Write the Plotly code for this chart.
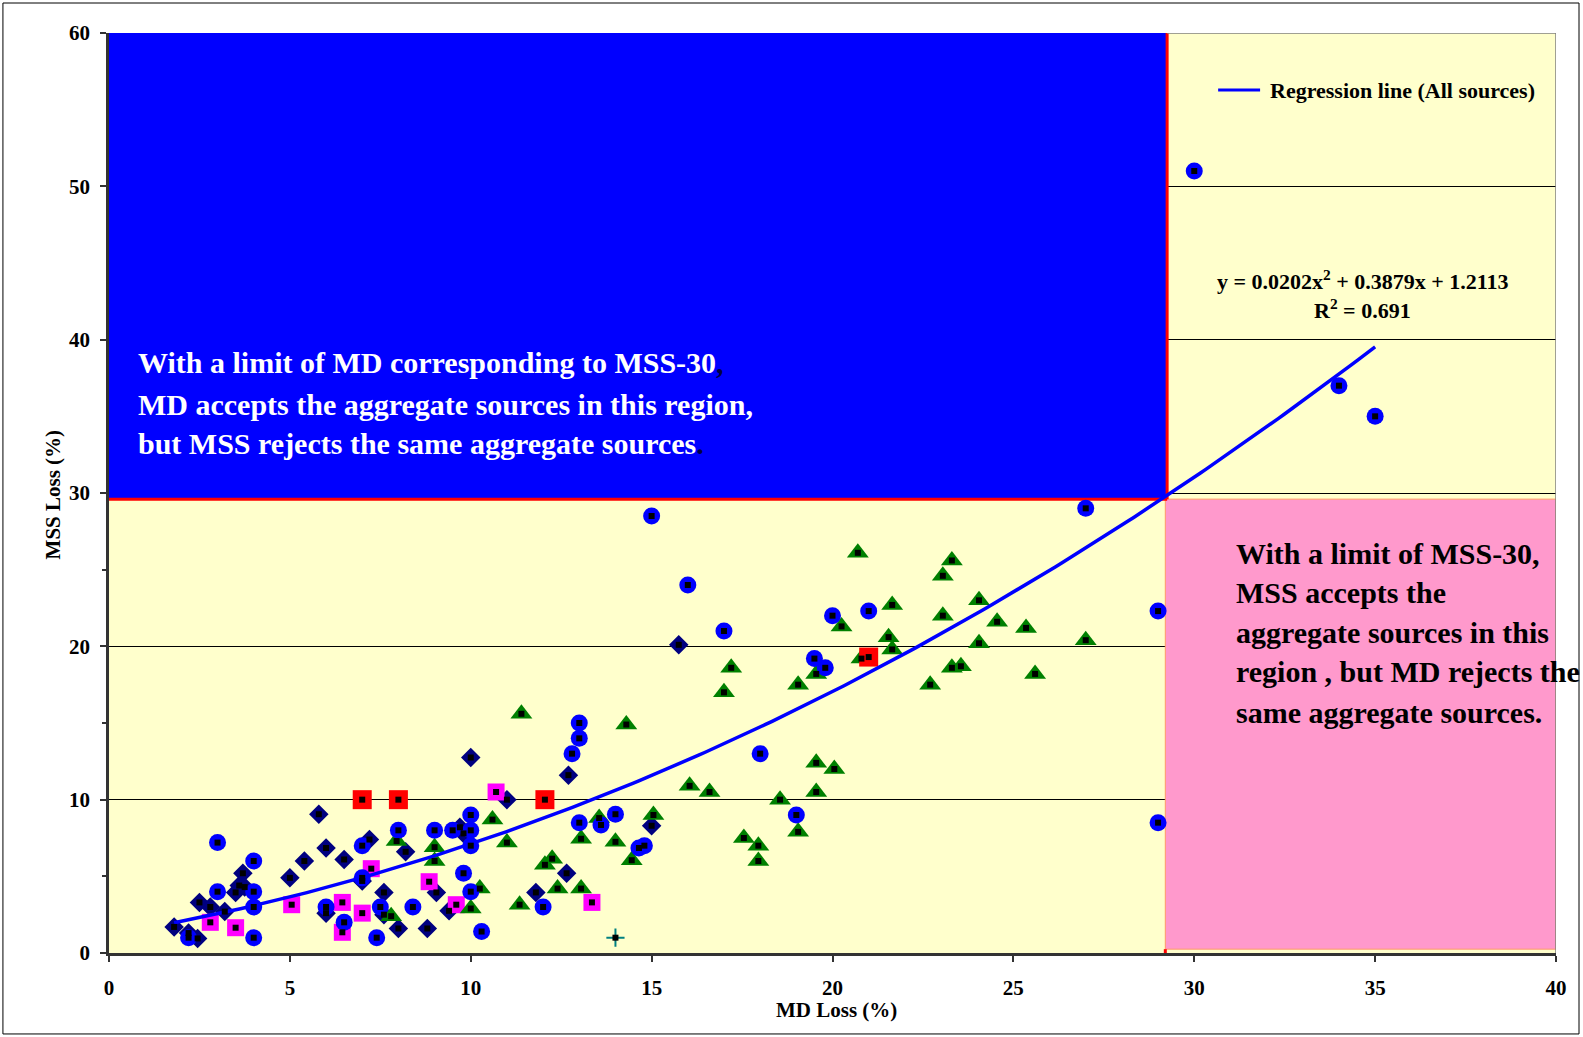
import numpy as np
import plotly.graph_objects as go

# ---------------- data ----------------
diamond_x = [1.8, 2.2, 2.45, 2.5, 2.8, 3.2, 3.5, 3.6, 3.75, 3.7, 5.0, 5.4, 5.8, 6.0, 6.0, 6.5,
             7.0, 7.2, 7.6, 7.6, 8.0, 8.2, 8.8, 9.05, 9.4, 9.7, 9.8, 10.0, 11.0, 11.8, 12.65,
             12.7, 15.0, 15.75]
diamond_y = [1.7, 1.3, 0.95, 3.3, 3.0, 2.7, 3.95, 4.4, 4.3, 5.2, 4.9, 6.0, 9.05, 6.85, 2.6, 6.1,
             4.7, 7.4, 3.95, 2.5, 1.6, 6.6, 1.6, 3.95, 2.75, 8.2, 7.8, 12.75, 10.0, 3.95, 5.2,
             11.6, 8.3, 20.1]

circle_x = [2.2, 3.0, 3.0, 4.0, 4.0, 4.0, 4.0, 6.0, 6.5, 7.0, 7.0, 7.4, 7.5, 8.0, 8.4, 9.0,
            9.5, 9.8, 10.0, 10.0, 10.0, 10.0, 10.3, 12.0, 12.8, 13.0, 13.0, 13.0, 13.6, 14.0,
            14.65, 14.8, 15.0, 16.0, 17.0, 18.0, 19.0, 19.5, 19.8, 20.0, 21.0, 27.0, 29.0,
            29.0, 30.0, 34.0, 35.0]
circle_y = [1.0, 7.2, 4.0, 6.0, 4.0, 3.0, 1.0, 3.0, 2.0, 7.0, 4.9, 1.0, 3.0, 8.0, 3.0, 8.0,
            8.0, 5.2, 9.0, 8.0, 7.0, 4.0, 1.4, 3.0, 13.0, 15.0, 14.0, 8.5, 8.35, 9.05,
            6.85, 7.0, 28.5, 24.0, 21.0, 13.0, 9.0, 19.2, 18.6, 22.0, 22.3, 29.0, 22.3,
            8.5, 51.0, 37.0, 35.0]

triangle_x = [7.8, 7.95, 9.0, 9.0, 10.0, 10.25, 10.6, 11.0, 11.35, 11.4, 12.05, 12.25, 12.4,
              13.05, 13.05, 13.55, 14.0, 14.3, 14.45, 15.05, 16.05, 16.6, 17.0, 17.2, 17.55,
              17.95, 17.95, 18.55, 19.05, 19.05, 19.55, 19.55, 19.55, 20.05, 20.25, 20.7,
              20.8, 21.55, 21.65, 21.65, 22.7, 23.05, 23.05, 23.3, 23.3, 23.55, 24.05, 24.05,
              24.55, 25.35, 25.6, 27.0]
triangle_y = [2.4, 7.3, 6.9, 6.0, 2.9, 4.2, 8.7, 7.2, 3.15, 15.6, 5.75, 6.15, 4.2,
              4.2, 7.45, 8.8, 7.25, 14.9, 6.05, 9.0, 10.9, 10.5, 17.0, 18.6, 7.5,
              7.0, 6.0, 10.0, 7.9, 17.5, 10.5, 12.4, 18.2, 12.0, 21.3, 26.1,
              19.2, 20.6, 19.8, 22.7, 17.5, 24.6, 22.0, 25.6, 18.6, 18.7, 23.0, 20.2,
              21.6, 21.2, 18.2, 20.4]

magenta_x = [2.8, 3.5, 5.05, 6.45, 6.45, 7.0, 7.25, 8.85, 9.6, 10.7, 13.35]
magenta_y = [2.0, 1.65, 3.15, 3.3, 1.35, 2.6, 5.5, 4.65, 3.15, 10.5, 3.3]

red_x = [7.0, 8.0, 12.05, 21.0]
red_y = [10.0, 10.0, 10.0, 19.3]

cross_x = [14.0]
cross_y = [1.0]

# regression (as printed on the chart)
reg_coef = [0.0202, 0.3879, 1.2113]
reg_x_min, reg_x_max = 1.8, 35.0
eq_text = "y = 0.0202x<sup>2</sup> + 0.3879x + 1.2113"
r2_text = "R<sup>2</sup> = 0.691"

# limits
MD_LIMIT = 29.25
MSS_LIMIT = 29.6

x_ticks = [0, 5, 10, 15, 20, 25, 30, 35, 40]
y_ticks = [0, 10, 20, 30, 40, 50, 60]
y_minor_ticks = [5, 15, 25]

blue_lines = ["With a limit of MD corresponding to MSS-30<span style='color:#000040'>,</span>",
              "MD accepts the aggregate sources in this region,",
              "but MSS rejects the same aggregate sources<span style='color:#000040'>.</span>"]
pink_lines = ["With a limit of MSS-30,",
              "MSS accepts the",
              "aggregate sources in this",
              "region , but MD rejects the",
              "same aggregate sources."]

FONT = "Liberation Serif"

# ---------------- figure ----------------
fig = go.Figure()

fig.add_trace(go.Scatter(x=diamond_x, y=diamond_y, mode="markers",
                         marker=dict(symbol="diamond", size=15, color="#000080"),
                         showlegend=False, hoverinfo="x+y"))
fig.add_trace(go.Scatter(x=magenta_x, y=magenta_y, mode="markers",
                         marker=dict(symbol="square", size=17, color="#FF00FF"),
                         showlegend=False, hoverinfo="x+y"))
fig.add_trace(go.Scatter(x=triangle_x, y=triangle_y, mode="markers",
                         marker=dict(symbol="triangle-up", size=19, color="#008000"),
                         showlegend=False, hoverinfo="x+y"))
fig.add_trace(go.Scatter(x=circle_x, y=circle_y, mode="markers",
                         marker=dict(symbol="circle", size=17, color="#0000FF"),
                         showlegend=False, hoverinfo="x+y"))
fig.add_trace(go.Scatter(x=red_x, y=red_y, mode="markers",
                         marker=dict(symbol="square", size=19, color="#FF0000"),
                         showlegend=False, hoverinfo="x+y"))
fig.add_trace(go.Scatter(x=cross_x, y=cross_y, mode="markers",
                         marker=dict(symbol="cross-thin", size=13, color="#008080",
                                     line=dict(color="#008080", width=2)),
                         showlegend=False, hoverinfo="x+y"))

reg_x = np.linspace(reg_x_min, reg_x_max, 200)
reg_y = np.polyval(reg_coef, reg_x)
fig.add_trace(go.Scatter(x=reg_x, y=reg_y, mode="lines",
                         line=dict(color="#0000FF", width=3.5),
                         showlegend=False, hoverinfo="skip"))

all_x = diamond_x + magenta_x + triangle_x + circle_x + red_x + cross_x
all_y = diamond_y + magenta_y + triangle_y + circle_y + red_y + cross_y
fig.add_trace(go.Scatter(x=all_x, y=all_y, mode="markers",
                         marker=dict(symbol="square", size=6, color="#000000"),
                         showlegend=False, hoverinfo="skip"))

shapes = []
# blue region
shapes.append(dict(type="rect", xref="x", yref="y", x0=-0.1, x1=MD_LIMIT, y0=MSS_LIMIT, y1=60,
                   fillcolor="#0000FF", line=dict(width=0), layer="between"))
# pink region
shapes.append(dict(type="rect", xref="x", yref="y", x0=MD_LIMIT - 0.05, x1=40, y0=0.25, y1=MSS_LIMIT,
                   fillcolor="#FF99CC", line=dict(color="#FF9966", width=1), layer="between"))
# red limit lines
shapes.append(dict(type="line", xref="x", yref="y", x0=-0.1, x1=MD_LIMIT, y0=MSS_LIMIT, y1=MSS_LIMIT,
                   line=dict(color="#FF0000", width=3), layer="between"))
shapes.append(dict(type="line", xref="x", yref="y", x0=MD_LIMIT, x1=MD_LIMIT, y0=MSS_LIMIT, y1=60,
                   line=dict(color="#FF0000", width=3), layer="between"))
shapes.append(dict(type="line", xref="x", yref="y", x0=MD_LIMIT - 0.05, x1=MD_LIMIT - 0.05, y0=-0.5, y1=0.25,
                   line=dict(color="#FF0000", width=3), layer="above"))
# plot frame (top / right)
shapes.append(dict(type="line", xref="x", yref="y", x0=MD_LIMIT, x1=40, y0=60, y1=60,
                   line=dict(color="#808080", width=1.5), layer="above"))
shapes.append(dict(type="line", xref="x", yref="y", x0=40, x1=40, y0=0, y1=60,
                   line=dict(color="#808080", width=1.5), layer="above"))
# outer chart border
shapes.append(dict(type="rect", xref="paper", yref="paper", x0=-0.0733, x1=1.0159, y0=-0.088, y1=1.0326,
                   line=dict(color="#000000", width=1), fillcolor="rgba(0,0,0,0)", layer="above"))
# legend line sample
shapes.append(dict(type="line", xref="x", yref="y", x0=30.66, x1=31.82, y0=56.28, y1=56.28,
                   line=dict(color="#0000FF", width=3), layer="above"))

annotations = []
annotations.append(dict(x=32.04, y=56.28, xref="x", yref="y", text="Regression line (All sources)",
                        showarrow=False, xanchor="left", yanchor="middle",
                        font=dict(family=FONT, size=22, color="#000000", weight="bold")))
annotations.append(dict(x=34.66, y=43.9, xref="x", yref="y", text=eq_text, showarrow=False,
                        xanchor="center", yanchor="middle",
                        font=dict(family=FONT, size=22, color="#000000", weight="bold")))
annotations.append(dict(x=34.66, y=42.0, xref="x", yref="y", text=r2_text, showarrow=False,
                        xanchor="center", yanchor="middle",
                        font=dict(family=FONT, size=22, color="#000000", weight="bold")))
for txt, yy in zip(blue_lines, [38.48, 35.8, 33.2]):
    annotations.append(dict(x=0.75, y=yy, xref="x", yref="y", text=txt, showarrow=False,
                            xanchor="left", yanchor="middle",
                            font=dict(family=FONT, size=30, color="#FFFFFF", weight="bold")))
for txt, yy in zip(pink_lines, [26.07, 23.50, 20.93, 18.36, 15.71]):
    annotations.append(dict(x=31.1, y=yy, xref="x", yref="y", text=txt, showarrow=False,
                            xanchor="left", yanchor="middle",
                            font=dict(family=FONT, size=30, color="#000000", weight="bold")))
# axis titles
annotations.append(dict(x=0.503, y=-0.062, xref="paper", yref="paper", text="MD Loss (%)",
                        showarrow=False, xanchor="center", yanchor="middle",
                        font=dict(family=FONT, size=21, color="#000000", weight="bold")))
annotations.append(dict(x=-0.039, y=0.498, xref="paper", yref="paper", text="MSS Loss (%)",
                        showarrow=False, xanchor="center", yanchor="middle", textangle=-90,
                        font=dict(family=FONT, size=21, color="#000000", weight="bold")))

fig.update_layout(
    width=1583, height=1037,
    margin=dict(l=109, r=27, t=33, b=84, pad=0),
    paper_bgcolor="#FFFFFF",
    plot_bgcolor="#FFFFCC",
    shapes=shapes,
    annotations=annotations,
    showlegend=False,
)
fig.update_xaxes(range=[0, 40], tickvals=x_ticks, ticks="outside", ticklen=6, tickwidth=1.5,
                 tickcolor="#333333", showgrid=False, zeroline=False, showline=True,
                 linecolor="#333333", linewidth=2.5, ticklabelstandoff=8,
                 tickfont=dict(family=FONT, size=21, color="#000000", weight="bold"))
fig.update_yaxes(range=[0, 60], tickvals=y_ticks, ticks="outside", ticklen=6, tickwidth=1.5,
                 tickcolor="#333333", showgrid=True, gridcolor="#000000", gridwidth=1,
                 zeroline=False, showline=True, linecolor="#333333", linewidth=2.5,
                 ticklabelstandoff=6,
                 minor=dict(tickvals=y_minor_ticks, ticks="outside", ticklen=4,
                            tickcolor="#333333", showgrid=False),
                 tickfont=dict(family=FONT, size=21, color="#000000", weight="bold"))

fig.write_html("out.html")
